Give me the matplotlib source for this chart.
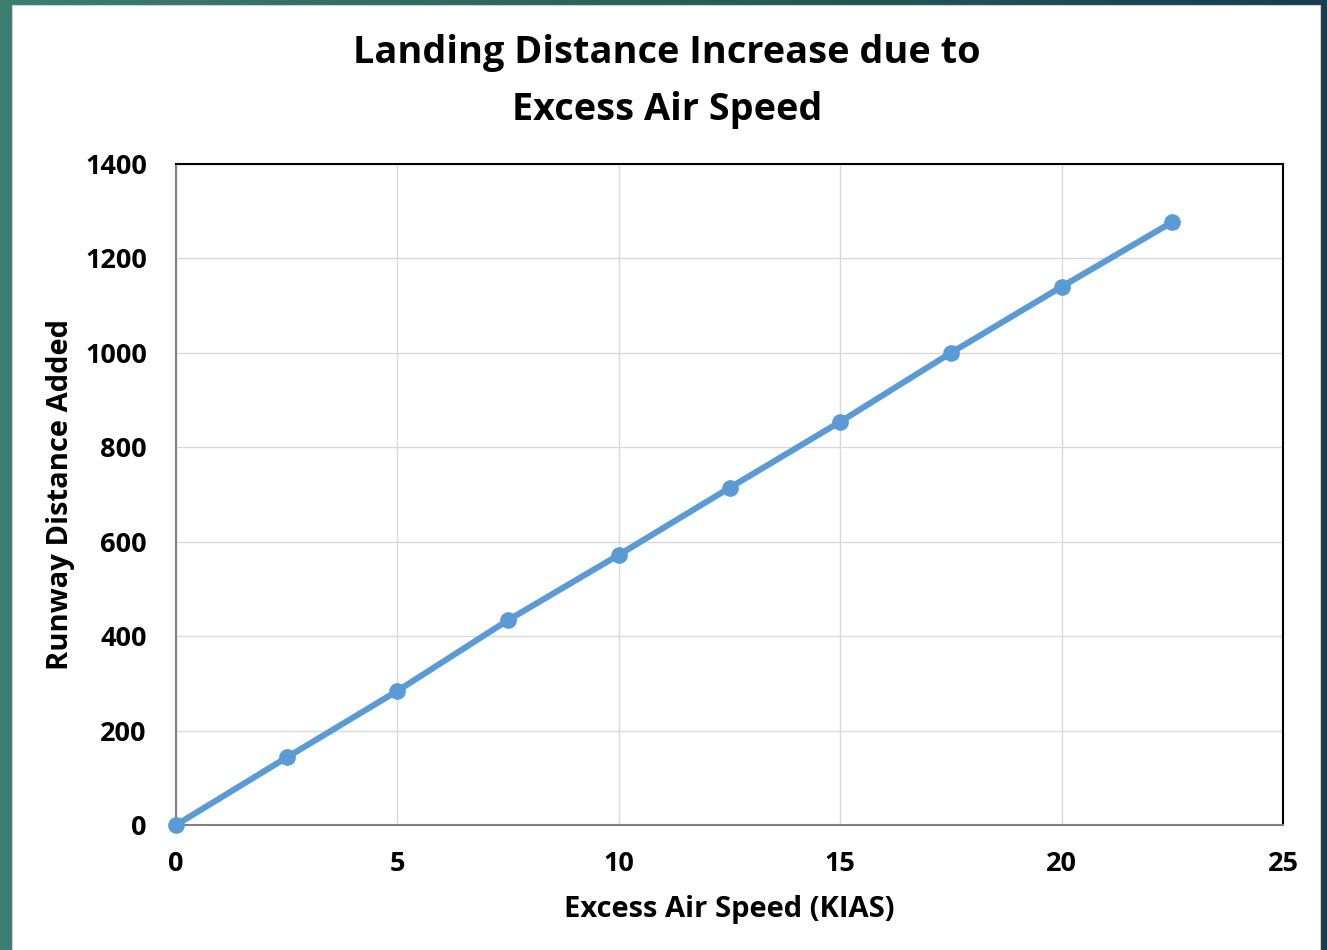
import matplotlib.pyplot as plt
import numpy as np
from matplotlib.patches import Rectangle
from matplotlib.colors import LinearSegmentedColormap

# excess speed (knots) vs extra runway needed (ft)
speed = [0, 2.5, 5, 7.5, 10, 12.5, 15, 17.5, 20, 22.5]
distance = [0, 143, 284, 434, 572, 714, 854, 1000, 1140, 1277]

x_ticks = [0, 5, 10, 15, 20, 25]
y_ticks = [0, 200, 400, 600, 800, 1000, 1200, 1400]

plt.rcParams['font.family'] = ['Open Sans', 'DejaVu Sans']
plt.rcParams['font.weight'] = 'bold'

W, H = 1327, 950
fig = plt.figure(figsize=(W / 100, H / 100), dpi=100)

# slide background: teal to dark blue gradient, white card on top
bg = fig.add_axes([0, 0, 1, 1])
grad = np.linspace(0, 1, 256)[None, :]
cmap = LinearSegmentedColormap.from_list('slide', ['#3b7e72', '#276058', '#173d50'])
bg.imshow(grad, aspect='auto', cmap=cmap, extent=[0, 1, 0, 1])
bg.add_patch(Rectangle((12 / W, 0), (1320 - 12) / W, (H - 5) / H,
                       facecolor='white', edgecolor='#d0d0d0', linewidth=0.8))
bg.set_xlim(0, 1)
bg.set_ylim(0, 1)
bg.axis('off')

ax = fig.add_axes([176 / W, 125 / H, (1283 - 176) / W, (825 - 164) / H])
ax.plot(speed, distance, color='#5b9bd5', linewidth=4.4, marker='o',
        markersize=11, zorder=3, clip_on=False)

ax.set_xlim(0, 25)
ax.set_ylim(0, 1400)
ax.set_xticks(x_ticks)
ax.set_yticks(y_ticks)
ax.grid(color='#d9d9d9', linewidth=1)
ax.set_axisbelow(True)
ax.tick_params(axis='y', length=0, labelsize=19.5, pad=21)
ax.tick_params(axis='x', length=0, labelsize=19.5, pad=19)
for lab in ax.get_xticklabels() + ax.get_yticklabels():
    lab.set_fontweight('bold')

for side in ['left', 'bottom']:
    ax.spines[side].set_color('#808080')
    ax.spines[side].set_linewidth(1.5)
for side in ['top', 'right']:
    ax.spines[side].set_color('black')
    ax.spines[side].set_linewidth(1.5)

ax.set_xlabel('Excess Air Speed (KIAS)', fontsize=21, fontweight='bold', va='center')
ax.set_ylabel('Runway Distance Added', fontsize=21, fontweight='bold', va='center')
ax.xaxis.set_label_coords(0.5, (825 - 910) / 661)
ax.yaxis.set_label_coords((61 - 176) / 1107, 0.5)

fig.text(0.5025, 1 - 53 / H, 'Landing Distance Increase due to', ha='center', va='center',
         fontsize=27.3, fontweight='bold')
fig.text(0.5025, 1 - 110 / H, 'Excess Air Speed', ha='center', va='center',
         fontsize=27.3, fontweight='bold')

fig.savefig('out.png', dpi=100)
